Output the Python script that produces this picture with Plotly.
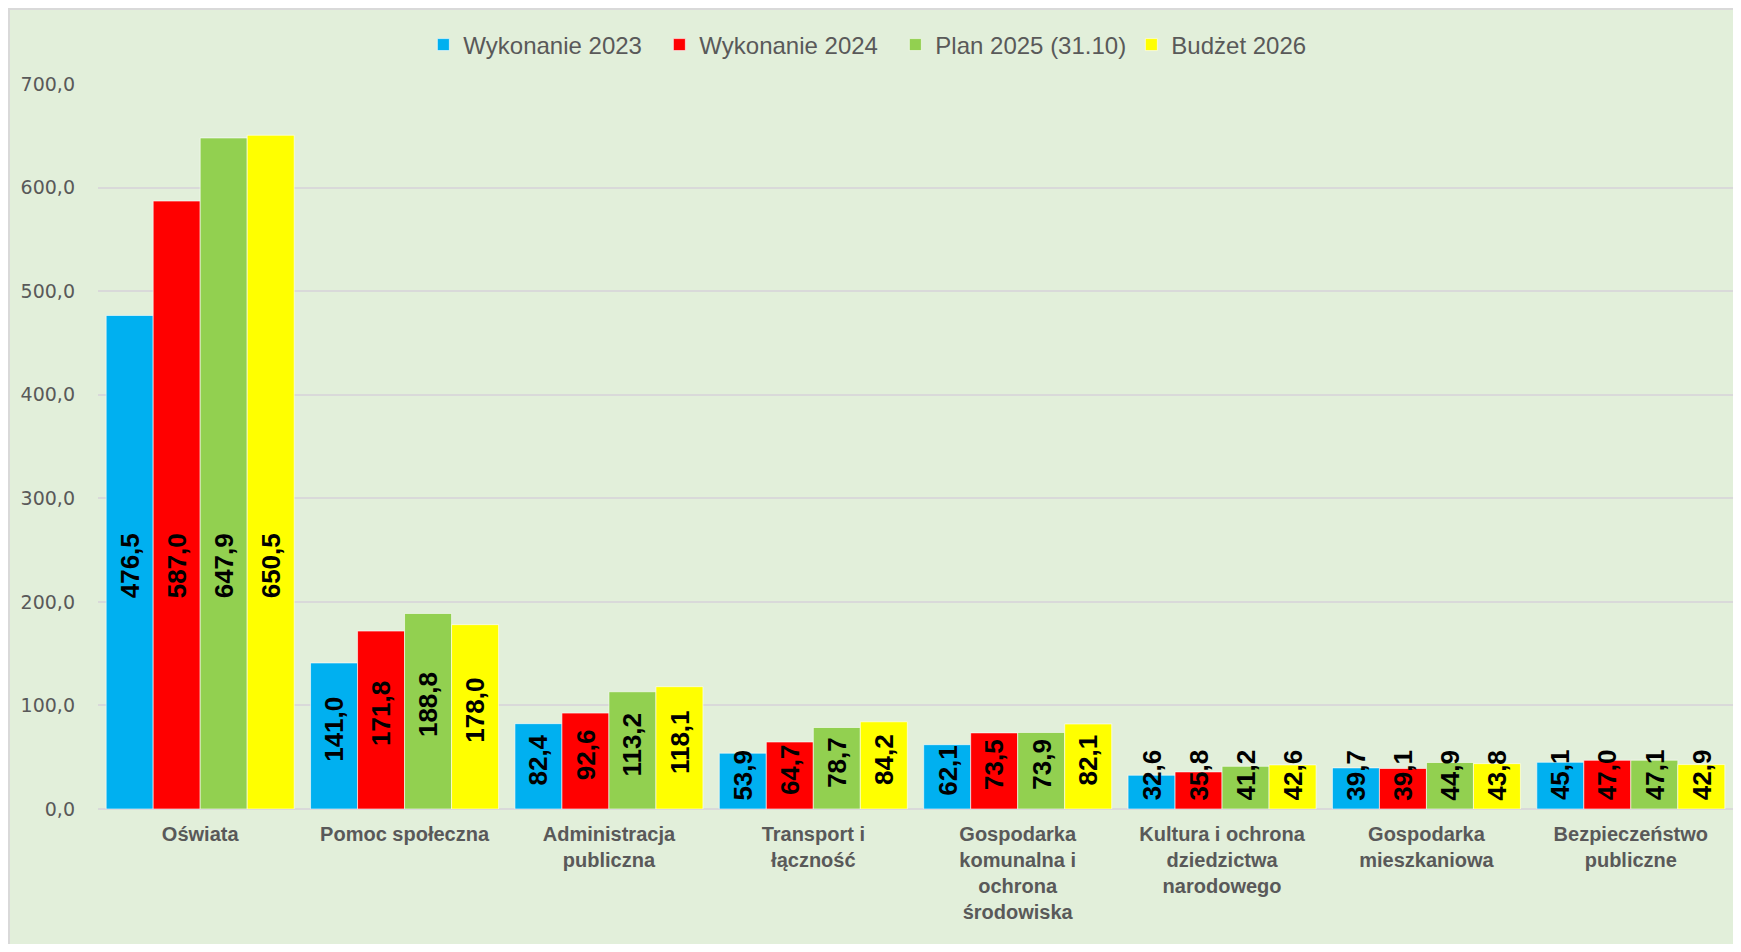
import numpy as np
import plotly.graph_objects as go

# dane (mln zł)
kategorie = [
    "Oświata",
    "Pomoc społeczna",
    "Administracja<br>publiczna",
    "Transport i<br>łączność",
    "Gospodarka<br>komunalna i<br>ochrona<br>środowiska",
    "Kultura i ochrona<br>dziedzictwa<br>narodowego",
    "Gospodarka<br>mieszkaniowa",
    "Bezpieczeństwo<br>publiczne",
]

wyk_2023 = [476.5, 141.0, 82.4, 53.9, 62.1, 32.6, 39.7, 45.1]
wyk_2024 = [587.0, 171.8, 92.6, 64.7, 73.5, 35.8, 39.1, 47.0]
plan_2025 = [647.9, 188.8, 113.2, 78.7, 73.9, 41.2, 44.9, 47.1]
budzet_2026 = [650.5, 178.0, 118.1, 84.2, 82.1, 42.6, 43.8, 42.9]

serie = [
    ("Wykonanie 2023", wyk_2023, "#00B0F0"),
    ("Wykonanie 2024", wyk_2024, "#FF0000"),
    ("Plan 2025 (31.10)", plan_2025, "#92D050"),
    ("Budżet 2026", budzet_2026, "#FFFF00"),
]

BARGAP = 0.08
TLO = "#E2EFDA"
SZARY = "#595959"

# strona ma 8 px marginesu, więc rysunek jest mniejszy
W, H = 1725, 936
L, T, R, B = 90, 76, 0, 135

fig = go.Figure()

for nazwa, wartosci, kolor in serie:
    fig.add_trace(go.Bar(
        x=kategorie,
        y=wartosci,
        name=nazwa,
        marker=dict(color=kolor, line=dict(color="rgba(255,255,255,0.6)", width=1)),
        hovertemplate="<b>%{x}</b><br>" + nazwa + ": %{y:.1f}<extra></extra>",
    ))

# etykiety danych (obrócone, pogrubione)
szer = (1 - BARGAP) / len(serie)
for j, (nazwa, wartosci, kolor) in enumerate(serie):
    for i, v in enumerate(wartosci):
        y_lab = float(np.clip(v / 2 + 6, 33, 235))
        fig.add_annotation(
            x=i + (j - (len(serie) - 1) / 2) * szer,
            y=y_lab,
            xref="x", yref="y",
            text=f"{v:.1f}".replace(".", ","),
            textangle=-90,
            showarrow=False,
            font=dict(family="Liberation Sans, Arial", size=26, color="black", weight="bold"),
        )

# ramka obszaru wykresu
pw = W - L - R
ph = H - T - B
fig.add_shape(
    type="rect", xref="paper", yref="paper",
    x0=(1 - L) / pw, x1=1 + (R + 20) / pw,
    y0=-(B + 20) / ph, y1=1 + (T - 1) / ph,
    fillcolor=TLO, line=dict(color="#D9D9D9", width=2),
    layer="below",
)

fig.update_layout(
    width=W,
    height=H,
    margin=dict(l=L, r=R, t=T, b=B),
    paper_bgcolor="white",
    plot_bgcolor="rgba(0,0,0,0)",
    barmode="group",
    bargap=BARGAP,
    bargroupgap=0,
    separators=", ",
    showlegend=True,
    legend=dict(
        orientation="h",
        x=0.199, xanchor="left",
        y=1 + 39 / ph, yanchor="middle",
        font=dict(family="Liberation Sans, Arial", size=24, color=SZARY),
        bgcolor="rgba(0,0,0,0)",
        itemwidth=30,
        entrywidth=191,
        traceorder="normal",
    ),
)

fig.update_yaxes(
    range=[0, 700],
    dtick=100,
    tickformat=".1f",
    showgrid=True,
    gridcolor="#D9D9D9",
    gridwidth=1.5,
    zeroline=True,
    zerolinecolor="#D9D9D9",
    zerolinewidth=2,
    ticks="",
    ticklabelstandoff=22,
    tickfont=dict(family="DejaVu Sans", size=19, color=SZARY),
)

fig.update_xaxes(
    showgrid=False,
    ticks="",
    showline=False,
    tickangle=0,
    ticklabelstandoff=11,
    tickfont=dict(family="Liberation Sans, Arial", size=20, color=SZARY, weight="bold"),
)

fig.write_html("out.html")
